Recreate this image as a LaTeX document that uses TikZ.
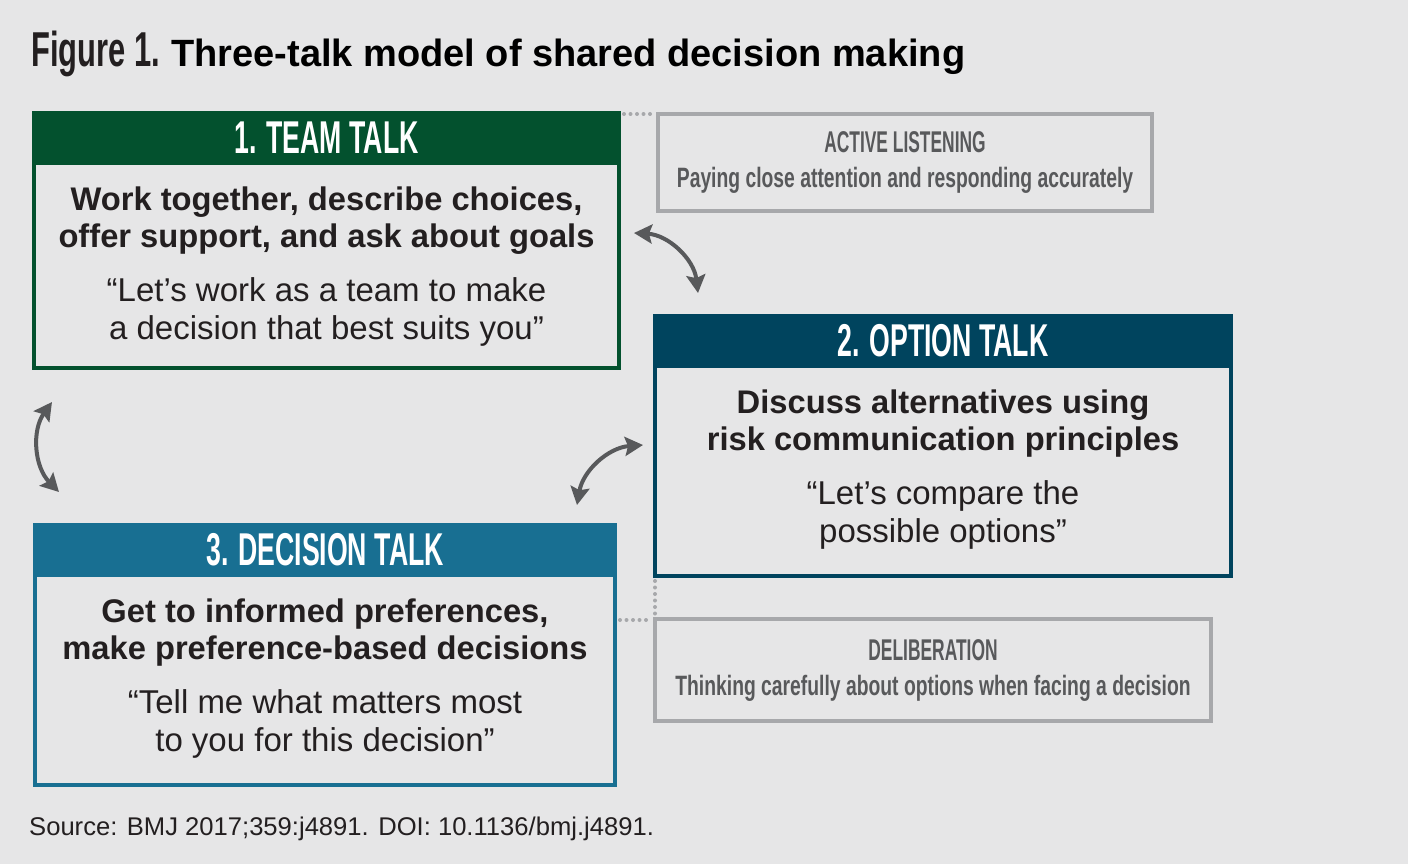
\documentclass[tikz,border=0pt]{standalone}
\usepackage{fontspec}
\setmainfont{Liberation Sans}
\newfontfamily\headfont[FakeStretch=0.58]{Liberation Sans}
\newfontfamily\notefont[FakeStretch=0.69]{Liberation Sans}
\newfontfamily\figfont[FakeStretch=0.63]{Liberation Sans}
\usetikzlibrary{positioning,arrows.meta}
\definecolor{paper}{HTML}{E6E6E7}
\definecolor{teamgreen}{HTML}{03512E}
\definecolor{optionblue}{HTML}{00445E}
\definecolor{decisionblue}{HTML}{186F92}
\definecolor{notegray}{HTML}{A7A8AB}
\definecolor{notetext}{HTML}{58595B}
\definecolor{inktext}{HTML}{231F20}
\tikzset{
  talk/.style={
    % The shape:
    shape=rectangle,inner sep=0pt,outer sep=2pt,
    % The border:
    line width=4pt,draw=#1,
    % The filling:
    fill=paper}}
\tikzset{
  talkhead/.style={
    % The band on top of a talk box
    rectangle,inner sep=0pt,outer sep=0pt,minimum height=54pt,
    fill=#1,text=white,
    font=\headfont\bfseries\fontsize{46}{46}\selectfont}}
\tikzset{
  gist/.style={inner sep=0pt,align=center,text=inktext,
    font=\bfseries\fontsize{32.7}{37.5}\selectfont},
  saying/.style={inner sep=0pt,align=center,text=inktext,
    font=\fontsize{33}{38}\selectfont}}
\tikzset{
  note/.style={
    rectangle,inner sep=0pt,outer sep=2pt,
    line width=4pt,draw=notegray,fill=paper,
    align=center,text=notetext,
    font=\fontsize{28}{35}\selectfont},
  dotlink/.style={draw=notegray,line width=4pt,line cap=round,
    dash pattern=on 0pt off 6.5pt},
  talkarrow/.style={draw=notetext,line width=4pt,
    {Stealth[length=18pt,width=19pt,inset=3pt]}-{Stealth[length=18pt,width=19pt,inset=3pt]}}}

\begin{document}
\begin{tikzpicture}[x=1pt,y=-1pt]
	\useasboundingbox[fill=paper] (0,0) rectangle (1408,864);
	% Title
	\node[anchor=base west,inner sep=0pt,text=inktext,font=\figfont\bfseries\fontsize{49}{49}\selectfont] (figno) at (31,67) {Figure 1.};
	\node[base right=11pt of figno,inner sep=0pt,text=black,font=\bfseries\fontsize{38}{38}\selectfont] (title) {Three-talk model of shared decision making};
	% Team talk
	\node[talk=teamgreen,minimum width=585pt,minimum height=255pt] (team) at (326.5,240.5) {};
	\node[talkhead=teamgreen,minimum width=589pt,anchor=north] (teamhead) at (team.north) {1. TEAM TALK};
	\node[gist,below=21.5pt of teamhead] (teamgist) {Work together, describe choices,\\offer support, and ask about goals};
	\node[saying,below=112.5pt of teamhead] (teamsay) {“Let’s work as a team to make\\a decision that best suits you”};
	% Option talk
	\node[talk=optionblue,minimum width=576pt,minimum height=260pt] (option) at (943,446) {};
	\node[talkhead=optionblue,minimum width=580pt,anchor=north] (optionhead) at (option.north) {2. OPTION TALK};
	\node[gist,below=21.5pt of optionhead] (optiongist) {Discuss alternatives using\\risk communication principles};
	\node[saying,below=112.5pt of optionhead] (optionsay) {“Let’s compare the\\possible options”};
	% Decision talk
	\node[talk=decisionblue,minimum width=580pt,minimum height=260pt] (decision) at (325,655) {};
	\node[talkhead=decisionblue,minimum width=584pt,anchor=north] (decisionhead) at (decision.north) {3. DECISION TALK};
	\node[gist,below=21.5pt of decisionhead] (decisiongist) {Get to informed preferences,\\make preference-based decisions};
	\node[saying,below=112.5pt of decisionhead] (decisionsay) {“Tell me what matters most\\to you for this decision”};
	% Notes
	\node[note,minimum width=494pt,minimum height=97pt] (listen) at (905,162.5)
		{{\headfont\bfseries\fontsize{30}{35}\selectfont ACTIVE LISTENING}\\{\notefont\bfseries Paying close attention and responding accurately}};
	\node[note,minimum width=556pt,minimum height=102pt] (delib) at (933,670)
		{{\headfont\bfseries\fontsize{30}{35}\selectfont DELIBERATION}\\{\notefont\bfseries Thinking carefully about options when facing a decision}};
	% Dotted links to the notes
	\draw[dotlink] ([xshift=3pt,yshift=-3pt]team.north east) -- ([xshift=-3pt,yshift=-3pt]team.north east -| listen.west);
	\draw[dotlink] ([xshift=2pt,yshift=-3pt]option.south west) -- ([xshift=2pt,yshift=3pt]option.south west |- delib.north);
	\draw[dotlink] ([xshift=3pt,yshift=-3pt]decision.east |- delib.north) -- ([xshift=-5pt,yshift=-3pt]delib.north west);
	% Arrows between the talks
	\coordinate (teamopt-a) at (634,233);
	\coordinate (teamopt-b) at (698,293);
	\coordinate (teamdec-a) at (52,402);
	\coordinate (teamdec-b) at (59,492);
	\coordinate (optdec-a) at (577,505);
	\coordinate (optdec-b) at (643,445);
	\draw[talkarrow] (teamopt-a) to[bend left=40] (teamopt-b);
	\draw[talkarrow] (teamdec-a) to[bend right=40] (teamdec-b);
	\draw[talkarrow] (optdec-a) to[bend left=38] (optdec-b);
	% Source
	\node[anchor=base west,inner sep=0pt,text=inktext,font=\fontsize{25.6}{25.6}\selectfont] (source) at (29,835) {Source: BMJ 2017;359:j4891. DOI: 10.1136/bmj.j4891.};
\end{tikzpicture}
\end{document}
